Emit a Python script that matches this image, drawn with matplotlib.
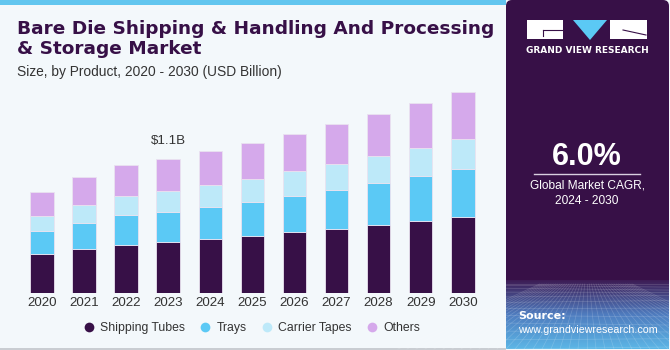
import matplotlib
matplotlib.use("Agg")
import matplotlib.pyplot as plt
import numpy as np
from matplotlib.patches import Rectangle, FancyBboxPatch, Polygon
from matplotlib.lines import Line2D

years = ["2020", "2021", "2022", "2023", "2024", "2025", "2026", "2027", "2028", "2029", "2030"]
shipping_tubes = [0.325, 0.364, 0.399, 0.419, 0.443, 0.473, 0.501, 0.528, 0.561, 0.591, 0.629]
trays = [0.184, 0.216, 0.241, 0.250, 0.268, 0.279, 0.300, 0.320, 0.345, 0.369, 0.392]
carrier_tapes = [0.126, 0.145, 0.158, 0.170, 0.176, 0.186, 0.200, 0.213, 0.219, 0.235, 0.244]
others = [0.199, 0.230, 0.252, 0.260, 0.279, 0.298, 0.306, 0.326, 0.347, 0.367, 0.388]
series_names = ["Shipping Tubes", "Trays", "Carrier Tapes", "Others"]
colors = ["#371047", "#5bc9f5", "#bde9f9", "#d5a9eb"]
annot_index = 3
annot_text = "$1.1B"

W, H = 670, 350
fig = plt.figure(figsize=(W / 100, H / 100), dpi=100)
fig.patch.set_facecolor("#f3f8fb")

# decoration layer in pixel coordinates
bg = fig.add_axes([0, 0, 1, 1], zorder=0)
bg.set_xlim(0, W)
bg.set_ylim(H, 0)
bg.axis("off")
bg.add_patch(Rectangle((0, 0), 506, 5, color="#62c6ef", lw=0))
bg.add_patch(Rectangle((0, 347.5), 506, 2.5, color="#c9cdd2", lw=0))
# right panel
bg.add_patch(FancyBboxPatch((506, 0), 163, 349, boxstyle="round,pad=0,rounding_size=6",
                            fc="#371047", ec="none"))
# gradient at bottom of right panel
grad = np.linspace(0, 1, 100)
c0 = np.array([0x3d, 0x1c, 0x55]) / 255
c1 = np.array([0x4f, 0x7c, 0xbf]) / 255
c2 = np.array([0x5c, 0xb6, 0xe6]) / 255
img = np.zeros((100, 1, 3))
for i, g in enumerate(grad):
    if g < 0.5:
        img[i, 0] = c0 + (c1 - c0) * (g / 0.5)
    else:
        img[i, 0] = c1 + (c2 - c1) * ((g - 0.5) / 0.5)
bg.imshow(img, extent=(506, 669, 349, 280), aspect="auto", zorder=1, interpolation="bilinear")
# perspective grid
for k in range(-12, 30):
    x0 = 506 + k * 9
    bg.plot([587 + (x0 - 587) * 0.25, x0], [284, 349], color="white", alpha=0.18, lw=0.5, zorder=2)
for j in range(12):
    yy = 284 + 65 * (j / 11) ** 1.6
    bg.plot([506, 669], [yy, yy + 2 * np.sin(j)], color="white", alpha=0.18, lw=0.5, zorder=2)
bg.set_xlim(0, W)
bg.set_ylim(H, 0)

# logo
bg.add_patch(Rectangle((527, 20), 36, 19, color="white", lw=0, zorder=3))
bg.add_patch(Rectangle((610, 20), 37, 19, color="white", lw=0, zorder=3))
bg.add_patch(Polygon([[573, 20], [607, 20], [590, 40]], closed=True, color="#5bc9f5", lw=0, zorder=3))
bg.plot([543, 562], [30, 30], color="#371047", lw=0.8, zorder=4)
bg.plot([543, 543], [30, 36], color="#371047", lw=0.8, zorder=4)
bg.plot([623, 646], [30, 35], color="#371047", lw=0.8, zorder=4)
bg.text(587, 50.5, "GRAND VIEW RESEARCH", color="white", fontsize=6.5, fontweight="bold",
        ha="center", va="center", family="DejaVu Sans", zorder=4)
bg.text(587, 157, "6.0%", color="white", fontsize=22, fontweight="bold",
        ha="center", va="center", family="Liberation Sans", zorder=4)
bg.plot([534, 640], [173.5, 173.5], color="#d8cfe0", lw=1, zorder=4)
bg.text(587, 186, "Global Market CAGR,", color="white", fontsize=8.6,
        ha="center", va="center", family="Liberation Sans", zorder=4)
bg.text(587, 201, "2024 - 2030", color="white", fontsize=8.6,
        ha="center", va="center", family="Liberation Sans", zorder=4)
bg.text(518, 316, "Source:", color="white", fontsize=8.0, fontweight="bold",
        ha="left", va="center", family="DejaVu Sans", zorder=4)
bg.text(518, 330, "www.grandviewresearch.com", color="white", fontsize=7.7,
        ha="left", va="center", family="Liberation Sans", zorder=4)

# titles
bg.text(17, 29, "Bare Die Shipping & Handling And Processing", color="#371047", fontsize=13.3,
        fontweight="heavy", ha="left", va="center", family="DejaVu Sans", zorder=4)
bg.text(17, 48.5, "& Storage Market", color="#371047", fontsize=13.3,
        fontweight="heavy", ha="left", va="center", family="DejaVu Sans", zorder=4)
bg.text(17, 72, "Size, by Product, 2020 - 2030 (USD Billion)", color="#333333", fontsize=9.9,
        ha="left", va="center", family="Liberation Sans", zorder=4)

# chart axes
base_px = 293.3
top_px = 80.0
scale = 1.1 / 134.0
ax = fig.add_axes([21 / W, (H - base_px) / H, 462.8 / W, (base_px - top_px) / H], zorder=2)
ax.set_facecolor("none")
x = np.arange(len(years))
bottom = np.zeros(len(years))
for vals, col, name in zip([shipping_tubes, trays, carrier_tapes, others], colors, series_names):
    ax.bar(x, vals, width=0.56, bottom=bottom, color=col, edgecolor="#e9e2f0", linewidth=0.6, label=name)
    bottom = bottom + np.array(vals)
ax.set_xlim(-0.5, len(years) - 0.5)
ax.set_ylim(0, (base_px - top_px) * scale)
ax.set_xticks(x)
ax.set_xticklabels(years, fontsize=9.6, color="#333333", family="Liberation Sans")
ax.tick_params(axis="x", length=0, pad=3)
ax.set_yticks([])
for s in ax.spines.values():
    s.set_visible(False)
ax.text(annot_index, bottom[annot_index] + 0.1, annot_text, ha="center", va="bottom",
        fontsize=9.6, color="#333333", family="Liberation Sans")

handles = [Line2D([], [], marker="o", linestyle="none", markersize=7, markerfacecolor=c,
                  markeredgecolor="none") for c in colors]
fig.legend(handles, series_names, loc="center", bbox_to_anchor=(252 / W, (H - 328) / H), ncol=4,
           frameon=False, handlelength=0.8, handletextpad=0.5, columnspacing=1.3,
           prop={"family": "Liberation Sans", "size": 8.8}, labelcolor="#333333")

fig.savefig("out.png", dpi=100, facecolor=fig.get_facecolor())
